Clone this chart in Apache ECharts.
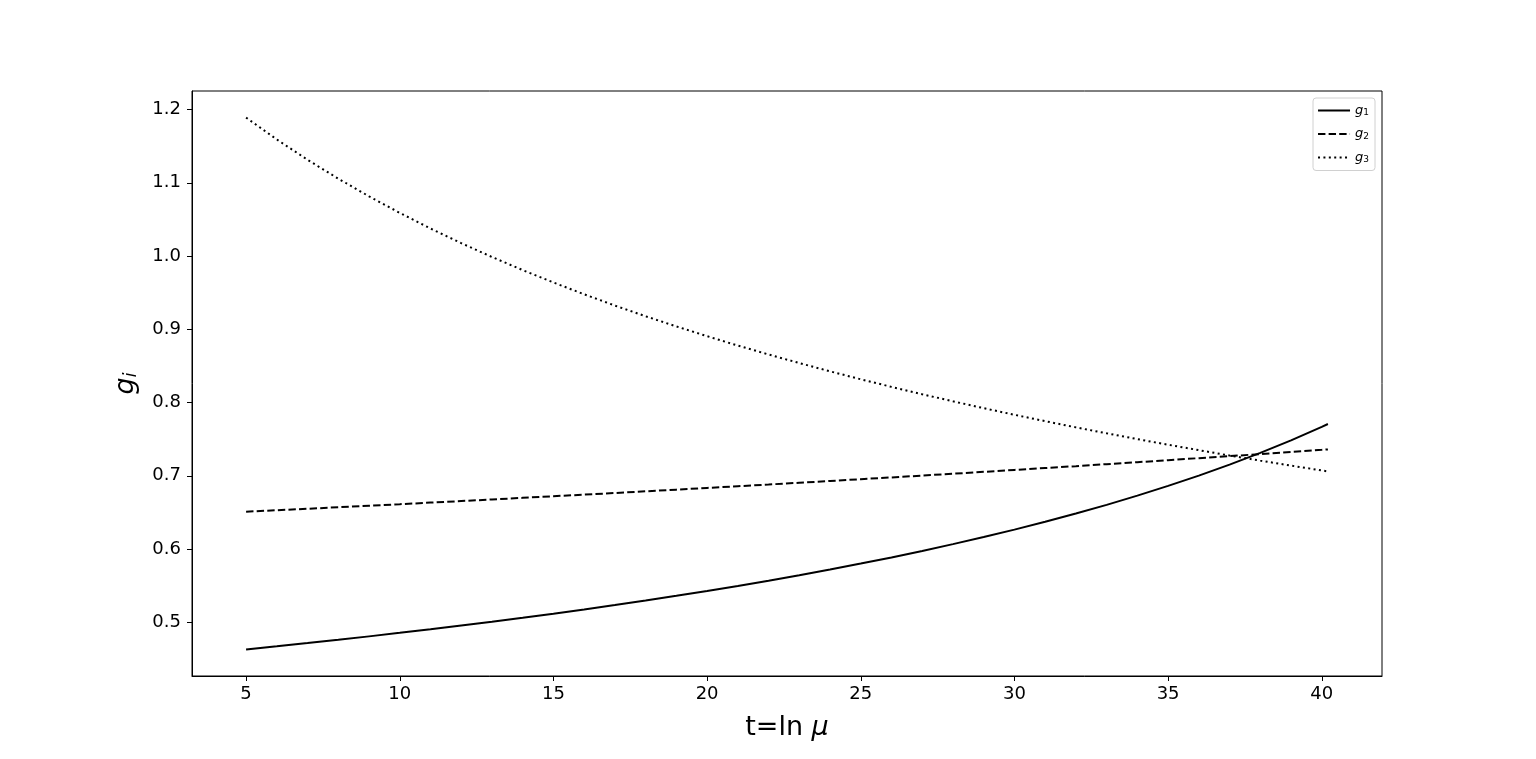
<!DOCTYPE html>
<html><head><meta charset="utf-8">
<script src="https://cdn.jsdelivr.net/npm/echarts@6/dist/echarts.min.js"></script>
<style>html,body{margin:0;padding:0;background:#fff}#c{width:1536px;height:759px}</style>
</head><body><div id="c"></div>
<script>
const t = [5,6,7,8,9,10,11,12,13,14,15,16,17,18,19,20,21,22,23,24,25,26,27,28,29,30,31,32,33,34,35,36,37,38,39,40,40.2];
const g1 = [0.4630,0.4672,0.4716,0.4761,0.4808,0.4856,0.4905,0.4956,0.5008,0.5062,0.5118,0.5175,0.5235,0.5297,0.5361,0.5428,0.5497,0.5568,0.5643,0.5721,0.5802,0.5886,0.5974,0.6067,0.6164,0.6265,0.6372,0.6485,0.6603,0.6729,0.6862,0.7003,0.7153,0.7313,0.7484,0.7669,0.7707];
const g2 = [0.6510,0.6530,0.6550,0.6571,0.6592,0.6612,0.6634,0.6655,0.6677,0.6699,0.6721,0.6743,0.6765,0.6788,0.6811,0.6834,0.6858,0.6881,0.6905,0.6929,0.6954,0.6978,0.7003,0.7028,0.7054,0.7080,0.7106,0.7132,0.7159,0.7186,0.7213,0.7241,0.7268,0.7297,0.7325,0.7354,0.7360];
const g3 = [1.1890,1.1591,1.1314,1.1056,1.0815,1.0589,1.0376,1.0176,0.9987,0.9808,0.9639,0.9478,0.9324,0.9178,0.9039,0.8906,0.8778,0.8656,0.8539,0.8426,0.8318,0.8214,0.8113,0.8017,0.7923,0.7833,0.7746,0.7661,0.7580,0.7501,0.7424,0.7350,0.7277,0.7207,0.7139,0.7073,0.7060];
const xTicks = [5,10,15,20,25,30,35,40];
const yTicks = [0.5,0.6,0.7,0.8,0.9,1.0,1.1,1.2];
const names = ['g1','g2','g3'];

const zip = (a,b)=>a.map((v,i)=>[v,b[i]]);
const font = 'DejaVu Sans';
const chart = echarts.init(document.getElementById('c'));
const mk = (name, data, type) => ({
  name, type:'line', data: zip(t,data), symbol:'none', smooth:false,
  lineStyle:{color:'#000', width:2, type},
  itemStyle:{color:'#000'}, animation:false
});
chart.setOption({
  animation:false,
  backgroundColor:'#fff',
  grid:{left:192, right:154, top:91, bottom:83, show:true, borderColor:'#000', borderWidth:1, backgroundColor:'transparent'},
  xAxis:{
    type:'value', min:3.24, max:41.96,
    splitLine:{show:false},
    axisLine:{show:true, onZero:false, lineStyle:{color:'#000', width:1}},
    axisTick:{show:true, length:5, lineStyle:{color:'#000'}, customValues:xTicks},
    axisLabel:{color:'#000', fontSize:18, fontFamily:font, margin:9, customValues:xTicks, formatter:v=>String(v)},
    name:'{a|t=ln }{b|μ}', nameLocation:'middle', nameGap:38,
    nameTextStyle:{rich:{a:{fontSize:27, fontFamily:font, color:'#000'}, b:{fontSize:27, fontFamily:font, fontStyle:'italic', color:'#000'}}}
  },
  yAxis:{
    type:'value', min:0.4267, max:1.2253,
    splitLine:{show:false},
    axisLine:{show:true, onZero:false, lineStyle:{color:'#000', width:1}},
    axisTick:{show:true, length:5, lineStyle:{color:'#000'}, customValues:yTicks},
    axisLabel:{color:'#000', fontSize:18, fontFamily:font, margin:11, customValues:yTicks, formatter:v=>v.toFixed(1)},
    name:'{a|g}{b|i}', nameLocation:'middle', nameGap:52, nameRotate:90,
    nameTextStyle:{rich:{a:{fontSize:27, fontFamily:font, fontStyle:'italic', color:'#000'}, b:{fontSize:17, fontFamily:font, fontStyle:'italic', color:'#000', padding:[12,0,0,0]}}}
  },
  legend:{
    orient:'vertical', right:161, top:98, itemWidth:32, itemHeight:12, itemGap:10,
    padding:[6,6,6,4], borderColor:'#d0d0d0', borderWidth:1, borderRadius:3, backgroundColor:'#fff',
    data:names,
    itemStyle:{opacity:0},
    formatter: n => '{a|g}{b|'+n.slice(1)+'}',
    textStyle:{rich:{a:{fontSize:13, fontFamily:font, fontStyle:'italic', color:'#000'}, b:{fontSize:9, fontFamily:font, color:'#000', padding:[5,0,0,0]}}}
  },
  series:[
    mk('g1', g1, 'solid'),
    mk('g2', g2, [7.4,3.2]),
    mk('g3', g3, [2,3.4])
  ]
});
</script></body></html>
